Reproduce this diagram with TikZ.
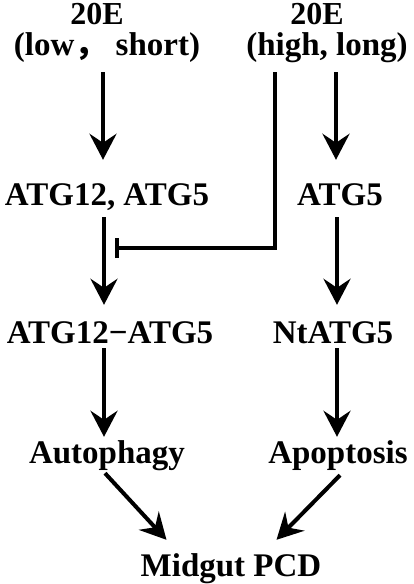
\documentclass[tikz,border=0pt]{standalone}
\usepackage{fontspec}
\setmainfont{Liberation Serif}
\newfontfamily\cjk{Noto Sans CJK SC}
\usetikzlibrary{calc,arrows.meta,positioning}

\tikzset{
  lbl/.style={font=\bfseries\fontsize{33}{36}\selectfont, inner sep=0pt, anchor=base, text height=22pt, text depth=0pt},
  act/.style={line width=4pt, -{Stealth[length=26pt,width=27pt,inset=9pt]}},
  inhib/.style={line width=4pt, -{Bar[width=20pt]}}
}

\begin{document}
\begin{tikzpicture}[x=1pt,y=-1pt]
    \useasboundingbox (0,0) rectangle (414,584);

    \node[lbl,font=\bfseries\fontsize{32}{34}\selectfont] (lowE) at (97,24) {20E};
    \node[lbl] (lowcond) at (107,55) {(low\smash{\cjk ，} short)};
    \node[lbl,font=\bfseries\fontsize{32}{34}\selectfont] (highE) at (317,24) {20E};
    \node[lbl] (highcond) at (327,55) {(high, long)};
    \node[lbl] (atgl) at (107,205) {ATG12, ATG5};
    \node[lbl] (atgr) at (340,205) {ATG5};
    \node[lbl] (conj) at (110,343) {ATG12−ATG5};
    \node[lbl] (ntatg) at (333,343) {NtATG5};
    \node[lbl] (autoph) at (107,463) {Autophagy};
    \node[lbl] (apopt) at (338,463) {Apoptosis};
    \node[lbl] (midgut) at (231,576) {Midgut PCD};

    \draw[act] ([xshift=-4pt,yshift=-17pt]lowcond.south) -- ([xshift=-4pt,yshift=23pt]atgl.north);
    \draw[act] ([xshift=9pt,yshift=-17pt]highcond.south) -- ([xshift=-4pt,yshift=23pt]atgr.north);
    \draw[inhib] ([xshift=-52pt,yshift=-17pt]highcond.south) |- ([xshift=8pt,yshift=-43pt]atgl.south);
    \draw[act] ([xshift=-3pt,yshift=-12pt]atgl.south) -- ([xshift=-6pt,yshift=16pt]conj.north);
    \draw[act] ([xshift=-3pt,yshift=-12pt]atgr.south) -- ([xshift=4pt,yshift=16pt]ntatg.north);
    \draw[act] ([xshift=-6pt,yshift=-5pt]conj.south) -- ([xshift=-3pt,yshift=4pt]autoph.north);
    \draw[act] ([xshift=4pt,yshift=-5pt]ntatg.south) -- ([xshift=-1pt,yshift=4pt]apopt.north);
    \draw[act] ([xshift=-2pt,yshift=-10pt]autoph.south) -- ([xshift=26pt,yshift=14pt]midgut.north west);
    \draw[act] ([xshift=2pt,yshift=-12pt]apopt.south) -- ([xshift=-45pt,yshift=14pt]midgut.north east);
\end{tikzpicture}
\end{document}
